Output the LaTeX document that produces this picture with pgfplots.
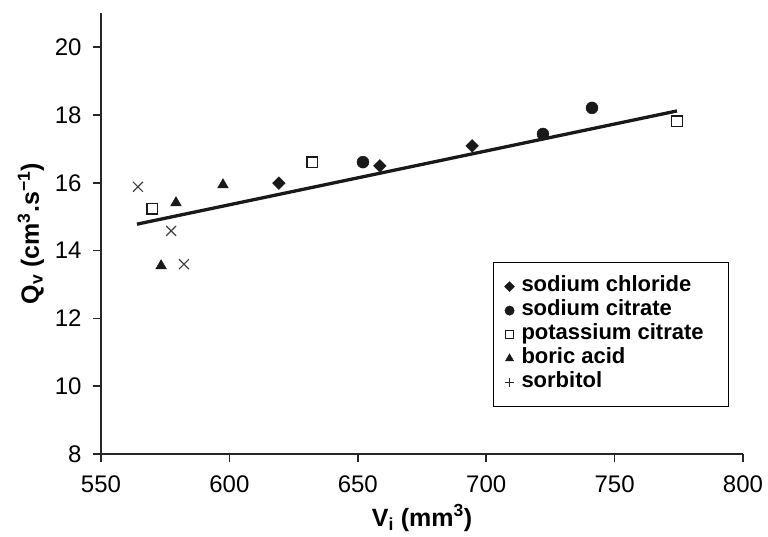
\documentclass[border=0pt]{standalone}
\usepackage{pgfplots}
\pgfplotsset{compat=1.18}
\usepackage{fontspec}
\setmainfont{Liberation Sans}
\begin{document}
\begin{tikzpicture}
\begin{axis}[
  scale only axis, width=642pt, height=440.7pt,
  xmin=550, xmax=800, ymin=8, ymax=21,
  axis lines*=left,
  axis line style={line width=1.6pt, black!85},
  xtick={550,600,...,800}, ytick={8,10,...,20},
  tick align=outside, major tick length=8pt,
  tick style={line width=1.6pt, black!85},
  xticklabel shift=10pt, yticklabel shift=8pt,
  /pgf/number format/assume math mode=true,
  ticklabel style={font=\fontsize{24}{28}\selectfont},
  xlabel={V\textsubscript{i} (mm\textsuperscript{3})},
  ylabel={Q\textsubscript{v} (cm\textsuperscript{3}.s\textsuperscript{−1})},
  xlabel style={at={(axis description cs:0.5,-0.1634)}, anchor=base, font=\fontsize{25}{28}\selectfont\bfseries},
  ylabel style={at={(axis description cs:-0.0966,0.5)}, anchor=base, font=\fontsize{25}{28}\selectfont\bfseries},
  legend style={at={(rel axis cs:0.6106,0.4357)}, anchor=north west, draw=black, line width=1.2pt,
    font=\fontsize{22}{24}\selectfont\bfseries, inner xsep=11pt, inner ysep=13pt, column sep=6pt,
    nodes={inner sep=1pt, text height=15pt, text depth=5pt}, row sep=2pt},
  legend cell align=left,
]
\coordinate (SW) at (rel axis cs:0,0);
\coordinate (NE) at (rel axis cs:1,1);
% regression line
\addplot[line width=3.3pt, black!90, forget plot] coordinates {(564.0,14.78) (774.3,18.12)};
% sodium chloride
\addplot[only marks, mark=square*, mark size=4.5pt, mark options={rotate=45, fill=black!90, draw=black!90}, forget plot]
  coordinates {(619.3,15.99) (658.6,16.50) (694.5,17.09)};
% sodium citrate
\addplot[only marks, mark=*, mark size=6pt, mark options={fill=black!90, draw=black!90}, forget plot]
  coordinates {(652.0,16.61) (722.1,17.44) (741.2,18.21)};
% potassium citrate
\addplot[only marks, mark=square, mark size=5.3pt, mark options={line width=1.5pt, fill=white, draw=black!90}, forget plot]
  coordinates {(569.9,15.23) (632.2,16.61) (774.3,17.82)};
% boric acid
\addplot[only marks, mark=triangle*, mark size=6.2pt, mark options={fill=black!90, draw=black!90}, forget plot]
  coordinates {(573.4,13.55) (579.2,15.41) (597.5,15.94)};
% sorbitol
\addplot[only marks, mark=x, mark size=7pt, mark options={line width=1.2pt, draw=black!75}, forget plot]
  coordinates {(564.4,15.88) (577.3,14.58) (582.3,13.60)};
% legend
\addlegendimage{only marks, mark=square*, mark size=3.5pt, mark options={rotate=45, fill=black!90, draw=black!90, line width=0.4pt}}
\addlegendentry{sodium chloride}
\addlegendimage{only marks, mark=*, mark size=4.7pt, mark options={fill=black!90, draw=black!90, line width=0.4pt}}
\addlegendentry{sodium citrate}
\addlegendimage{only marks, mark=square, mark size=4.3pt, mark options={line width=1.2pt, fill=white, draw=black!90}}
\addlegendentry{potassium citrate\hspace*{13pt}}
\addlegendimage{only marks, mark=triangle*, mark size=4.8pt, mark options={fill=black!90, draw=black!90, line width=0.4pt}}
\addlegendentry{boric acid}
\addlegendimage{only marks, mark=+, mark size=4.9pt, mark options={line width=1pt, draw=black!85}}
\addlegendentry{sorbitol}
\end{axis}
\pgfresetboundingbox
\path ([xshift=-101pt,yshift=-82pt]SW) rectangle ([xshift=25pt,yshift=13.3pt]NE);
\end{tikzpicture}
\end{document}
